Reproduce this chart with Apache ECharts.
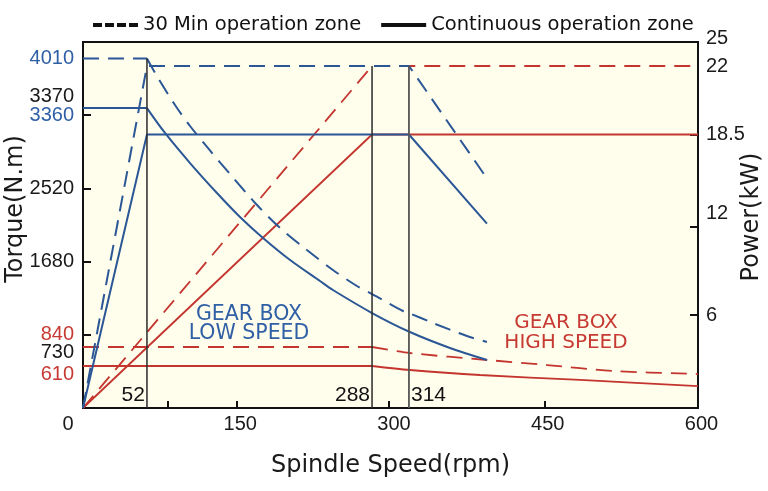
<!DOCTYPE html>
<html><head><meta charset="utf-8">
<script src="https://cdn.jsdelivr.net/npm/echarts@6/dist/echarts.min.js"></script>
<style>html,body{margin:0;padding:0;background:#fff}#c{width:768px;height:491px}</style>
</head><body><div id="c"></div>
<script>
// ---------------- data (real units: rpm, N.m, kW) ----------------
const speedLabels  = [0, 150, 300, 450, 600];
const speedTicks   = [75, 150, 300, 450];
const keySpeeds    = [52, 288, 314];
const torqueTicks  = [840, 1680, 2520, 3360];
const torqueLabels = [4200, 4010, 3370, 3360, 2520, 1680, 840, 730, 610];
const powerTicks   = [6, 12, 18.5];
const powerLabels  = [25, 22, 18.5, 12, 6];

// low gear (blue)
const lowTorque30 = [[0,4010],[52,4010],[64,3760],[82.6,3410],[99,3236],[120.3,2961],[142.6,2685],[170.7,2329],[194.1,2066],[221.6,1813],[248.1,1584],[272.6,1400],[288,1308],[293.6,1257],[309.8,1113],[314,1090],[338.2,975],[372.3,829],[392.4,775]];
const lowTorqueS1 = [[0,3370],[52,3370],[71.7,3156],[99,2811],[128.4,2467],[153.3,2192],[176.8,1951],[204.4,1698],[234.9,1457],[248.1,1354],[288,1090],[315,872],[355.2,724],[392.4,648]];
const lowPower30  = [[0,0],[52,22],[314,22],[392.4,15.4]];
const lowPowerS1  = [[0,0],[52,18.5],[314,18.5],[392.4,12.2]];
// high gear (red)
const highTorque30 = [[0,730],[288,730],[315,692],[392.4,648],[452.7,616],[517,538],[600,494]];
const highTorqueS1 = [[0,610],[288,610],[315,552],[385.4,479],[484.9,407],[600,319]];
const highPower30  = [[0,0],[288,22],[600,22]];
const highPowerS1  = [[0,0],[288,18.5],[600,18.5]];

// ---------------- the drawing's own (non-uniform) axis scales ----------------
function warp(real, shown) {
  return v => {
    for (let i = 0; i < real.length - 1; i++) {
      if (v <= real[i + 1] || i === real.length - 2) {
        return shown[i] + (v - real[i]) * (shown[i + 1] - shown[i]) / (real[i + 1] - real[i]);
      }
    }
  };
}
const X = warp([0, 52, 150, 288, 314, 450, 600], [0, 62.4, 150, 282, 318, 450, 600]);
const T = warp([0, 610, 730, 840, 3360, 3370, 4010, 4200], [0, 482, 700, 840, 3360, 3442, 4010, 4200]);
const P = warp([0, 6, 12, 18.5, 22, 25], [0, 6.35, 12.4, 18.68, 23.36, 25]);
const onT = arr => arr.map(([s, v]) => [X(s), T(v)]);
const onP = arr => arr.map(([s, v]) => [X(s), P(v)]);

// ---------------- styles ----------------
const C = { blue: '#2b5796', red: '#c3352e', blueText: '#2f5fa5', redText: '#c73a33', ink: '#1a1a1a', bg: '#fffdec' };
const numFont = '"Liberation Sans", Arial, sans-serif';
const txtFont = '"DejaVu Sans", sans-serif';
const torqueStyle = { 4010: 'b', 3360: 'b', 840: 'r', 610: 'r610', 730: 'k730', 3370: 'k3370' };
const powerStyle = { 25: 'up4', 12: 'up13' };
const dash = [16, 9];

function lookup(list, f, v) {
  let best = list[0], d = Infinity;
  list.forEach(r => { const e = Math.abs(f(r) - v); if (e < d) { d = e; best = r; } });
  return best;
}
const numRich = (color, padding) => ({ fontSize: 20, fontFamily: numFont, color, padding: padding || 0 });

function line(name, data, color, dashed, yAxisIndex, width, smooth) {
  return { type: 'line', name, data, yAxisIndex, symbol: 'none', silent: true,
    smooth: smooth ? 0.3 : false,
    lineStyle: { color, width: width || 2, type: dashed ? dash : 'solid' } };
}
// a torque curve: flat part drawn straight, falling part drawn smooth
function torqueCurve(name, arr, color, dashed, width) {
  return [
    line(name + ' flat', onT(arr.slice(0, 2)), color, dashed, 0, width, false),
    line(name + ' fall', onT(arr.slice(1)), color, dashed, 0, width, true)
  ];
}

const series = [
  ...torqueCurve('high torque 30', highTorque30, C.red, true, 1.8),
  ...torqueCurve('high torque S1', highTorqueS1, C.red, false, 1.8),
  line('high power 30', onP(highPower30), C.red, true, 1, 1.8),
  line('high power S1', onP(highPowerS1), C.red, false, 1, 1.8),
  ...torqueCurve('low torque 30', lowTorque30, C.blue, true),
  ...torqueCurve('low torque S1', lowTorqueS1, C.blue, false),
  line('low power 30', onP(lowPower30), C.blue, true, 1),
  line('low power S1', onP(lowPowerS1), C.blue, false, 1),
  line('v52', [[X(keySpeeds[0]), 0], [X(keySpeeds[0]), T(4010)]], '#2a2a2a', false, 0, 1.5),
  line('v288', [[X(keySpeeds[1]), 0], [X(keySpeeds[1]), P(22)]], '#2a2a2a', false, 1, 1.5),
  line('v314', [[X(keySpeeds[2]), 0], [X(keySpeeds[2]), P(22)]], '#555', false, 1, 1.8),
  { type: 'scatter', symbolSize: 0, silent: true, yAxisIndex: 0, itemStyle: { opacity: 1 },
    data: keySpeeds.map((s, i) => ({ value: [X(s), 0], name: String(s),
      label: { position: i < 2 ? 'left' : 'right' } })),
    label: { show: true, distance: 2, offset: [0, -13], formatter: p => p.name, opacity: 1,
      fontSize: 21, fontFamily: numFont, color: '#111' } },
  { type: 'line', name: '30 Min operation zone', data: [], symbol: 'none',
    lineStyle: { color: '#111', width: 4 }, itemStyle: { color: '#111' } },
  { type: 'line', name: 'Continuous operation zone', data: [], symbol: 'none',
    lineStyle: { color: '#111', width: 4 }, itemStyle: { color: '#111' } }
];

const option = {
  animation: false,
  backgroundColor: '#ffffff',
  legend: {
    left: 88, top: 10, itemGap: 20, itemWidth: 45, itemHeight: 4, selectedMode: false,
    data: [
      { name: '30 Min operation zone', icon: 'path://M0 0H9V4H0Z M12 0H21V4H12Z M24 0H33V4H24Z M36 0H45V4H36Z' },
      { name: 'Continuous operation zone', icon: 'path://M0 0H45V4H0Z' }
    ],
    itemStyle: { color: '#111', borderWidth: 0 },
    textStyle: { fontSize: 19.5, fontFamily: txtFont, color: '#111' }
  },
  grid: { left: 83, right: 70, top: 42, bottom: 83, show: true, backgroundColor: C.bg,
    borderColor: '#111', borderWidth: 2, containLabel: false, outerBoundsMode: 'none' },
  xAxis: {
    type: 'value', min: 0, max: 600, interval: 150,
    name: 'Spindle Speed(rpm)', nameLocation: 'middle', nameGap: 46, nameMoveOverlap: false,
    nameTextStyle: { fontSize: 24, fontFamily: txtFont, color: C.ink },
    axisLine: { show: true, lineStyle: { color: '#111', width: 2 } },
    axisTick: { show: true, inside: true, length: 7, customValues: speedTicks.map(X),
      lineStyle: { color: '#111', width: 2 } },
    splitLine: { show: false },
    axisLabel: { margin: 6, showMinLabel: true, showMaxLabel: true, hideOverlap: false,
      formatter: v => { const r = lookup(speedLabels, X, v); return r === 0 ? '{z|0}' : '{n|' + r + '}'; },
      rich: { z: numRich(C.ink, [0, 30, 0, 0]), n: numRich(C.ink, [0, 0, 0, 7]) } }
  },
  yAxis: [{
    type: 'value', min: 0, max: 4200, position: 'left',
    name: 'Torque(N.m)', nameLocation: 'middle', nameGap: 55, nameRotate: 90, nameMoveOverlap: false,
    nameTextStyle: { fontSize: 24, fontFamily: txtFont, color: C.ink, padding: [0, 0, 0, 32] },
    axisLine: { show: true, lineStyle: { color: '#111', width: 2 } },
    axisTick: { show: true, inside: true, length: 8, customValues: torqueTicks.map(T),
      lineStyle: { color: '#111', width: 2 } },
    splitLine: { show: false },
    axisLabel: { margin: 9, hideOverlap: false, customValues: torqueLabels.map(T),
      formatter: v => { const r = lookup(torqueLabels, T, v); return '{' + (torqueStyle[r] || 'k') + '|' + r + '}'; },
      rich: { k: numRich(C.ink), b: numRich(C.blueText), r: numRich(C.redText),
        r610: numRich(C.redText, [16, 0, 0, 0]), k730: numRich(C.ink, [10, 0, 0, 0]),
        k3370: numRich(C.ink, [0, 0, 24, 0]) } }
  }, {
    type: 'value', min: 0, max: 25, position: 'right',
    name: 'Power(kW)', nameLocation: 'middle', nameGap: 42, nameRotate: 90, nameMoveOverlap: false,
    nameTextStyle: { fontSize: 24, fontFamily: txtFont, color: C.ink, padding: [0, 0, 0, 16] },
    axisLine: { show: true, lineStyle: { color: '#111', width: 2 } },
    axisTick: { show: true, inside: true, length: 8, customValues: powerTicks.map(P),
      lineStyle: { color: '#111', width: 2 } },
    splitLine: { show: false },
    axisLabel: { margin: 8, hideOverlap: false, customValues: powerLabels.map(P),
      formatter: v => { const r = lookup(powerLabels, P, v); return '{' + (powerStyle[r] || 'k') + '|' + r + '}'; },
      rich: { k: numRich(C.ink), up4: numRich(C.ink, [0, 0, 8, 0]), up13: numRich(C.ink, [0, 0, 26, 0]) } }
  }],
  graphic: [
    { type: 'text', x: 249, y: 324, silent: true,
      style: { text: 'GEAR BOX\nLOW SPEED', align: 'center', verticalAlign: 'middle',
        fontSize: 20.5, fontFamily: txtFont, fill: C.blueText, lineHeight: 19 } },
    { type: 'text', x: 566, y: 333, silent: true,
      style: { text: 'GEAR BOX\nHIGH SPEED', align: 'center', verticalAlign: 'middle',
        fontSize: 20, fontFamily: txtFont, fill: C.redText, lineHeight: 20 } }
  ],
  series
};

const chart = echarts.init(document.getElementById('c'), null, { renderer: 'canvas' });
chart.setOption(option);
</script>
</body></html>
